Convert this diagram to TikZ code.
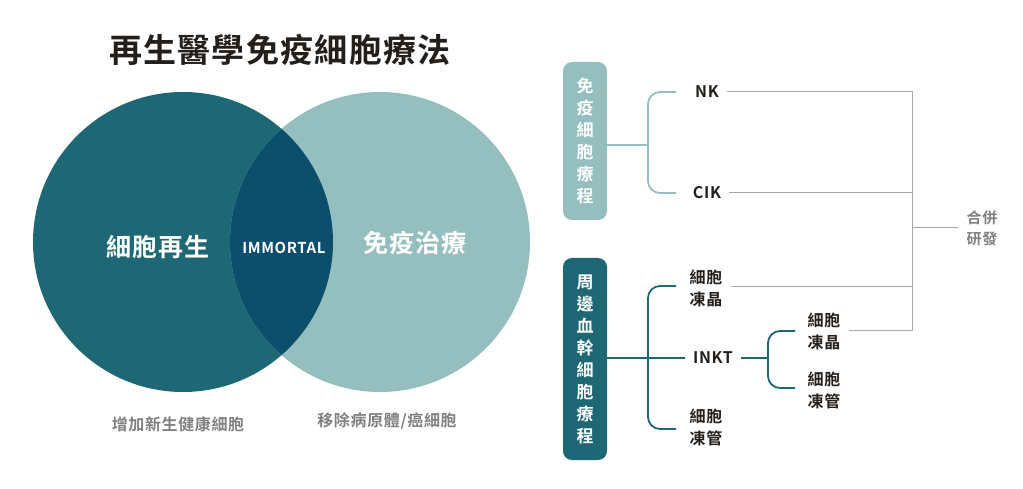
\documentclass[tikz,border=0pt]{standalone}
\usepackage{fontspec}
\setmainfont{Noto Sans CJK TC}
\newfontfamily\cjkb{Noto Sans CJK TC Bold}[LetterSpace=4]
\usetikzlibrary{positioning}
\definecolor{darkteal}{HTML}{1D6874}
\definecolor{lightteal}{HTML}{95BFBF}
\definecolor{midblue}{HTML}{0B4F6C}
\definecolor{linegray}{HTML}{A8A8A8}
\definecolor{ink}{HTML}{231F1C}
\tikzset{
	lbl/.style={font=\cjkb\fontsize{16}{22}\selectfont, text=ink, align=left, outer sep=5pt},
	caption/.style={font=\cjkb\fontsize{16}{18}\selectfont, text=gray},
	catbox/.style={rounded corners=9pt, minimum width=44pt, text=white, font=\cjkb\fontsize{17}{22}\selectfont, align=center},
	brk/.style={line width=1.8pt, rounded corners=12pt},
	gline/.style={linegray, line width=1pt}
}
\begin{document}
\begin{tikzpicture}[x=1pt,y=-1pt]
\useasboundingbox (0,0) rectangle (1023,489);
% venn
\fill[darkteal] (183,242) circle (150);
\fill[lightteal] (380,242) circle (150);
\begin{scope}
	\clip (183,242) circle (150);
	\fill[midblue] (380,242) circle (150);
\end{scope}
\node[font=\cjkb\fontsize{33}{36}\selectfont, text=ink] (title) at (280,50) {再生醫學免疫細胞療法};
\node[font=\cjkb\fontsize{25}{30}\selectfont, text=white] (regen) at (158,247) {細胞再生};
\node[font=\cjkb\fontsize{15}{18}\selectfont, text=white] (immortal) at (284,248) {IMMORTAL};
\node[font=\cjkb\fontsize{25}{30}\selectfont, text=white] (immuno) at (415,243) {免疫治療};
\node[caption] (capl) at (178,424) {增加新生健康細胞};
\node[caption] (capr) at (387,421) {移除病原體/癌細胞};
% tree
\node[catbox, fill=lightteal, minimum height=158pt] (imm) at (585,141) {免\\疫\\細\\胞\\療\\程};
\node[catbox, fill=darkteal, minimum height=202pt] (pb) at (585,359) {周\\邊\\血\\幹\\細\\胞\\療\\程};
\node[lbl] (nk) at (707,92) {NK};
\node[lbl] (cik) at (707,193) {CIK};
\node[lbl] (cryo1) at (706,288) {細胞\\凍晶};
\node[lbl] (inkt) at (713,358) {INKT};
\node[lbl] (tube1) at (706,427) {細胞\\凍管};
\node[lbl] (cryo2) at (824,331) {細胞\\凍晶};
\node[lbl] (tube2) at (824,390) {細胞\\凍管};
\node[caption, align=center, font=\cjkb\fontsize{15}{21}\selectfont, outer sep=5pt] (merge) at (982,228) {合併\\研發};
\draw[lightteal, line width=1.8pt] (imm.east |- 0,145) -- (648,145);
\draw[lightteal, brk] (676,92) -- (648,92) -- (648,193) -- (676,193);
\draw[darkteal, line width=1.8pt] (pb.east |- inkt) -- (inkt.west);
\draw[darkteal, brk] (676,286) -- (648,286) -- (648,429) -- (676,429);
\draw[darkteal, line width=1.8pt] (inkt.east) -- (768,358);
\draw[darkteal, brk] (795,331) -- (768,331) -- (768,388) -- (795,388);
\draw[gline] (nk.east) -- (912,92) -- (912,330) -- (cryo2.east |- 0,330);
\draw[gline] (cik.east) -- (912,193);
\draw[gline] (cryo1.east |- 0,286) -- (912,286);
\draw[gline] (912,228) -- (merge.west);
\end{tikzpicture}
\end{document}
